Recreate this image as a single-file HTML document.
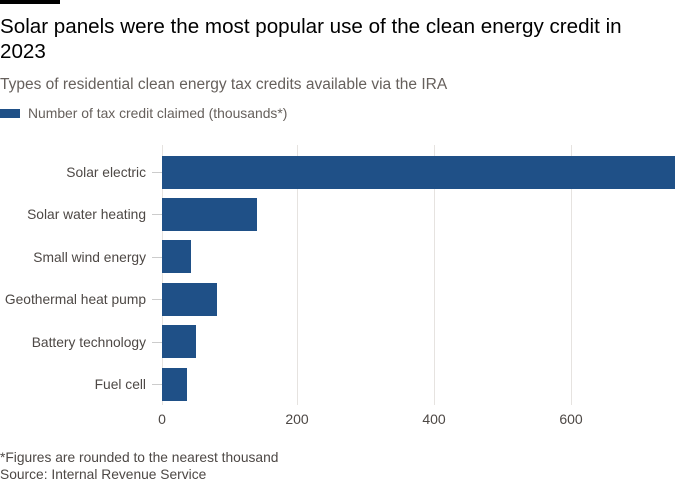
<!DOCTYPE html>
<html><head><meta charset="utf-8"><style>
body{margin:0;background:#fff;}
svg{display:block;font-family:"Liberation Sans",sans-serif;}
</style></head><body>
<svg width="700" height="500" xmlns="http://www.w3.org/2000/svg">
<rect width="700" height="500" fill="#fff"/>
<rect x="0" y="0" width="60" height="4" fill="#000"/>
<text x="0" y="33" font-size="20.6" fill="#000">Solar panels were the most popular use of the clean energy credit in</text>
<text x="0" y="58" font-size="20.6" fill="#000">2023</text>
<text x="0" y="89" font-size="15.5" fill="#66605c">Types of residential clean energy tax credits available via the IRA</text>
<rect x="0" y="109" width="20" height="9" fill="#1f5087"/>
<text x="28" y="118" font-size="13.9" fill="#66605c">Number of tax credit claimed (thousands*)</text>
<g stroke="#e6e3e0" stroke-width="1">
<line x1="297.5" y1="145" x2="297.5" y2="405"/>
<line x1="434.5" y1="145" x2="434.5" y2="405"/>
<line x1="571.5" y1="145" x2="571.5" y2="405"/>
<line x1="162.5" y1="145" x2="162.5" y2="405"/>
</g>
<g stroke="#ccc" stroke-width="1">
<line x1="152" y1="172.5" x2="162" y2="172.5"/>
<line x1="152" y1="214.5" x2="162" y2="214.5"/>
<line x1="152" y1="257.5" x2="162" y2="257.5"/>
<line x1="152" y1="299.5" x2="162" y2="299.5"/>
<line x1="152" y1="342.5" x2="162" y2="342.5"/>
<line x1="152" y1="384.5" x2="162" y2="384.5"/>
</g>
<g fill="#1f5087">
<rect x="162" y="156" width="513" height="33"/>
<rect x="162" y="198" width="95" height="33"/>
<rect x="162" y="240" width="29" height="33"/>
<rect x="162" y="283" width="55" height="33"/>
<rect x="162" y="325" width="34" height="33"/>
<rect x="162" y="368" width="25" height="33"/>
</g>
<g font-size="13.8" fill="#4d4845" text-anchor="end">
<text x="146" y="177">Solar electric</text>
<text x="146" y="219">Solar water heating</text>
<text x="146" y="262">Small wind energy</text>
<text x="146" y="304">Geothermal heat pump</text>
<text x="146" y="347">Battery technology</text>
<text x="146" y="389">Fuel cell</text>
</g>
<g font-size="14" fill="#4d4845" text-anchor="middle">
<text x="162" y="424">0</text>
<text x="297" y="424">200</text>
<text x="434" y="424">400</text>
<text x="571" y="424">600</text>
</g>
<text x="0" y="462" font-size="13.8" fill="#4d4845">*Figures are rounded to the nearest thousand</text>
<text x="0" y="479" font-size="13.8" fill="#4d4845">Source: Internal Revenue Service</text>
</svg>
</body></html>
